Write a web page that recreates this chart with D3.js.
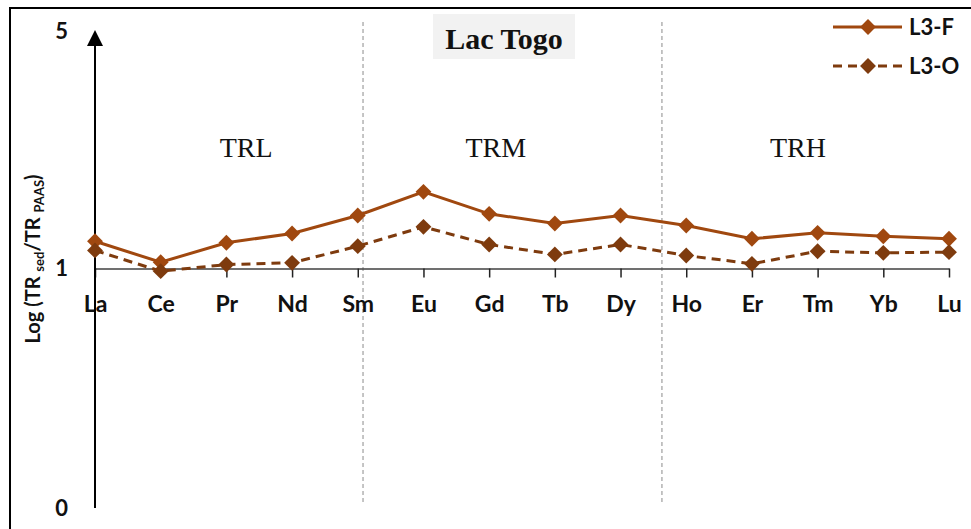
<!DOCTYPE html>
<html>
<head>
<meta charset="utf-8">
<script src="https://cdn.jsdelivr.net/npm/d3@7"></script>
<style>
  html, body { margin: 0; padding: 0; background: #fff; }
  svg { display: block; }
</style>
</head>
<body>
<svg id="chart" width="971" height="529"></svg>
<script>
// ---- data ----
const elements = ["La","Ce","Pr","Nd","Sm","Eu","Gd","Tb","Dy","Ho","Er","Tm","Yb","Lu"];
const seriesNames = ["L3-F", "L3-O"];
const valuesL3F = [1.201, 1.043, 1.189, 1.265, 1.428, 1.674, 1.444, 1.353, 1.428, 1.335, 1.221, 1.271, 1.242, 1.221];
const valuesL3O = [1.129, 0.982, 1.027, 1.039, 1.162, 1.323, 1.175, 1.099, 1.175, 1.091, 1.032, 1.123, 1.111, 1.116];
const yTickValues = [0.2, 1, 5];
const yTickLabels = ["0", "1", "5"];
const groupNames = ["TRL", "TRM", "TRH"];
const groupCenters = ["Pr", "Gd", "Tm"]; // category near which each group label sits
const groupOffsets = [0.3, 0.1, -0.3];
const dividers = [4.08, 8.63]; // category-index positions of the dashed separators
const title = "Lac Togo";

// ---- layout ----
const svg = d3.select("#chart");
const xLeft = 95, xRight = 949;
const yTop = 29, yBottom = 508;

const x = d3.scalePoint().domain(elements).range([xLeft, xRight]);
const y = d3.scaleLog().base(5).domain([0.2, 5]).range([yBottom, yTop]);
const xIdx = d3.scaleLinear().domain([0, elements.length - 1]).range([xLeft, xRight]);

const colF = "#A0480F";
const colO = "#7E3B0E";
const sans = "Lato, 'Open Sans', sans-serif";
const serif = "'Liberation Serif', 'Times New Roman', serif";

// outer frame
svg.append("rect").attr("x", 10).attr("y", 8).attr("width", 1000).attr("height", 600)
  .attr("fill", "none").attr("stroke", "#000").attr("stroke-width", 2);

// dashed separators
svg.selectAll(".sep").data(dividers).enter().append("line")
  .attr("x1", d => xIdx(d)).attr("x2", d => xIdx(d))
  .attr("y1", 22).attr("y2", 503)
  .attr("stroke", "#a6a6a6").attr("stroke-width", 1.3).attr("stroke-dasharray", "4,3");

// title with background box
const tg = svg.append("g");
tg.append("rect").attr("x", 433).attr("y", 14).attr("width", 142).attr("height", 45).attr("fill", "#f2f2f2");
tg.append("text").attr("x", 504).attr("y", 49).attr("text-anchor", "middle")
  .attr("font-family", serif).attr("font-weight", "bold")
  .attr("font-size", 30).attr("fill", "#111").text(title);

// group labels
svg.selectAll(".grp").data(groupNames).enter().append("text")
  .attr("x", (d, i) => x(groupCenters[i]) + groupOffsets[i] * x.step())
  .attr("y", 157).attr("text-anchor", "middle")
  .attr("font-family", serif)
  .attr("font-size", 28).attr("fill", "#111").text(d => d);

// x axis at y = 1
const xAxis = d3.axisBottom(x).tickSizeInner(9).tickSizeOuter(0).tickPadding(18);
const gx = svg.append("g").attr("transform", `translate(0,${y(1)})`).call(xAxis);
gx.select(".domain").attr("stroke", "#404040").attr("stroke-width", 1.5);
gx.selectAll(".tick line").attr("stroke", "#222").attr("stroke-width", 1.5);
gx.selectAll(".tick text").attr("font-family", sans)
  .attr("font-weight", "bold").attr("font-size", 23).attr("fill", "#111");

// y axis with arrow
const yAxis = d3.axisLeft(y).tickValues(yTickValues).tickSize(0).tickPadding(27)
  .tickFormat((d, i) => yTickLabels[i]);
const gy = svg.append("g").attr("transform", `translate(${xLeft},0)`).call(yAxis);
gy.select(".domain").remove();
gy.selectAll(".tick text").attr("font-family", sans)
  .attr("font-weight", "bold").attr("font-size", 22).attr("fill", "#111");
gy.selectAll(".tick text").filter(d => d === 5).attr("dy", "0.45em");
gy.selectAll(".tick text").filter(d => d === 0.2).attr("dy", "0.35em");
svg.append("line").attr("x1", xLeft).attr("x2", xLeft).attr("y1", yBottom).attr("y2", 44)
  .attr("stroke", "#000").attr("stroke-width", 2);
svg.append("path").attr("d", `M${xLeft},30 L${xLeft - 8},46 L${xLeft + 8},46 Z`).attr("fill", "#000");

// y axis title
const yt = svg.append("text")
  .attr("transform", `translate(40,259) rotate(-90)`)
  .attr("text-anchor", "middle")
  .attr("font-family", sans).attr("font-weight", "bold")
  .attr("font-size", 20).attr("fill", "#111");
yt.append("tspan").text("Log (TR\u00a0");
yt.append("tspan").attr("font-size", 13).attr("dy", 4).text("sed");
yt.append("tspan").attr("dy", -4).text("/TR\u00a0");
yt.append("tspan").attr("font-size", 13).attr("dy", 4).text("PAAS");
yt.append("tspan").attr("dy", -4).text(")");

// series
const series = [
  { name: seriesNames[0], values: valuesL3F, color: colF, dash: null },
  { name: seriesNames[1], values: valuesL3O, color: colO, dash: "9,6" }
];
const line = d3.line().x((d, i) => x(elements[i])).y(d => y(d));
const diamond = d3.symbol().type(d3.symbolDiamond2).size(160);

series.forEach(s => {
  svg.append("path").datum(s.values).attr("d", line)
    .attr("fill", "none").attr("stroke", s.color).attr("stroke-width", 3)
    .attr("stroke-dasharray", s.dash);
  svg.selectAll(null).data(s.values).enter().append("path")
    .attr("d", diamond)
    .attr("transform", (d, i) => `translate(${x(elements[i])},${y(d)})`)
    .attr("fill", s.color);
});

// legend
const lg = svg.append("g");
series.forEach((s, i) => {
  const ly = 27 + i * 39;
  lg.append("line").attr("x1", 833).attr("x2", 902).attr("y1", ly).attr("y2", ly)
    .attr("stroke", s.color).attr("stroke-width", 3).attr("stroke-dasharray", s.dash);
  lg.append("path").attr("d", diamond).attr("transform", `translate(868,${ly})`).attr("fill", s.color);
  lg.append("text").attr("x", 909).attr("y", ly + 8)
    .attr("font-family", sans).attr("font-weight", "bold")
    .attr("font-size", 22).attr("fill", "#111").text(s.name);
});
</script>
</body>
</html>
